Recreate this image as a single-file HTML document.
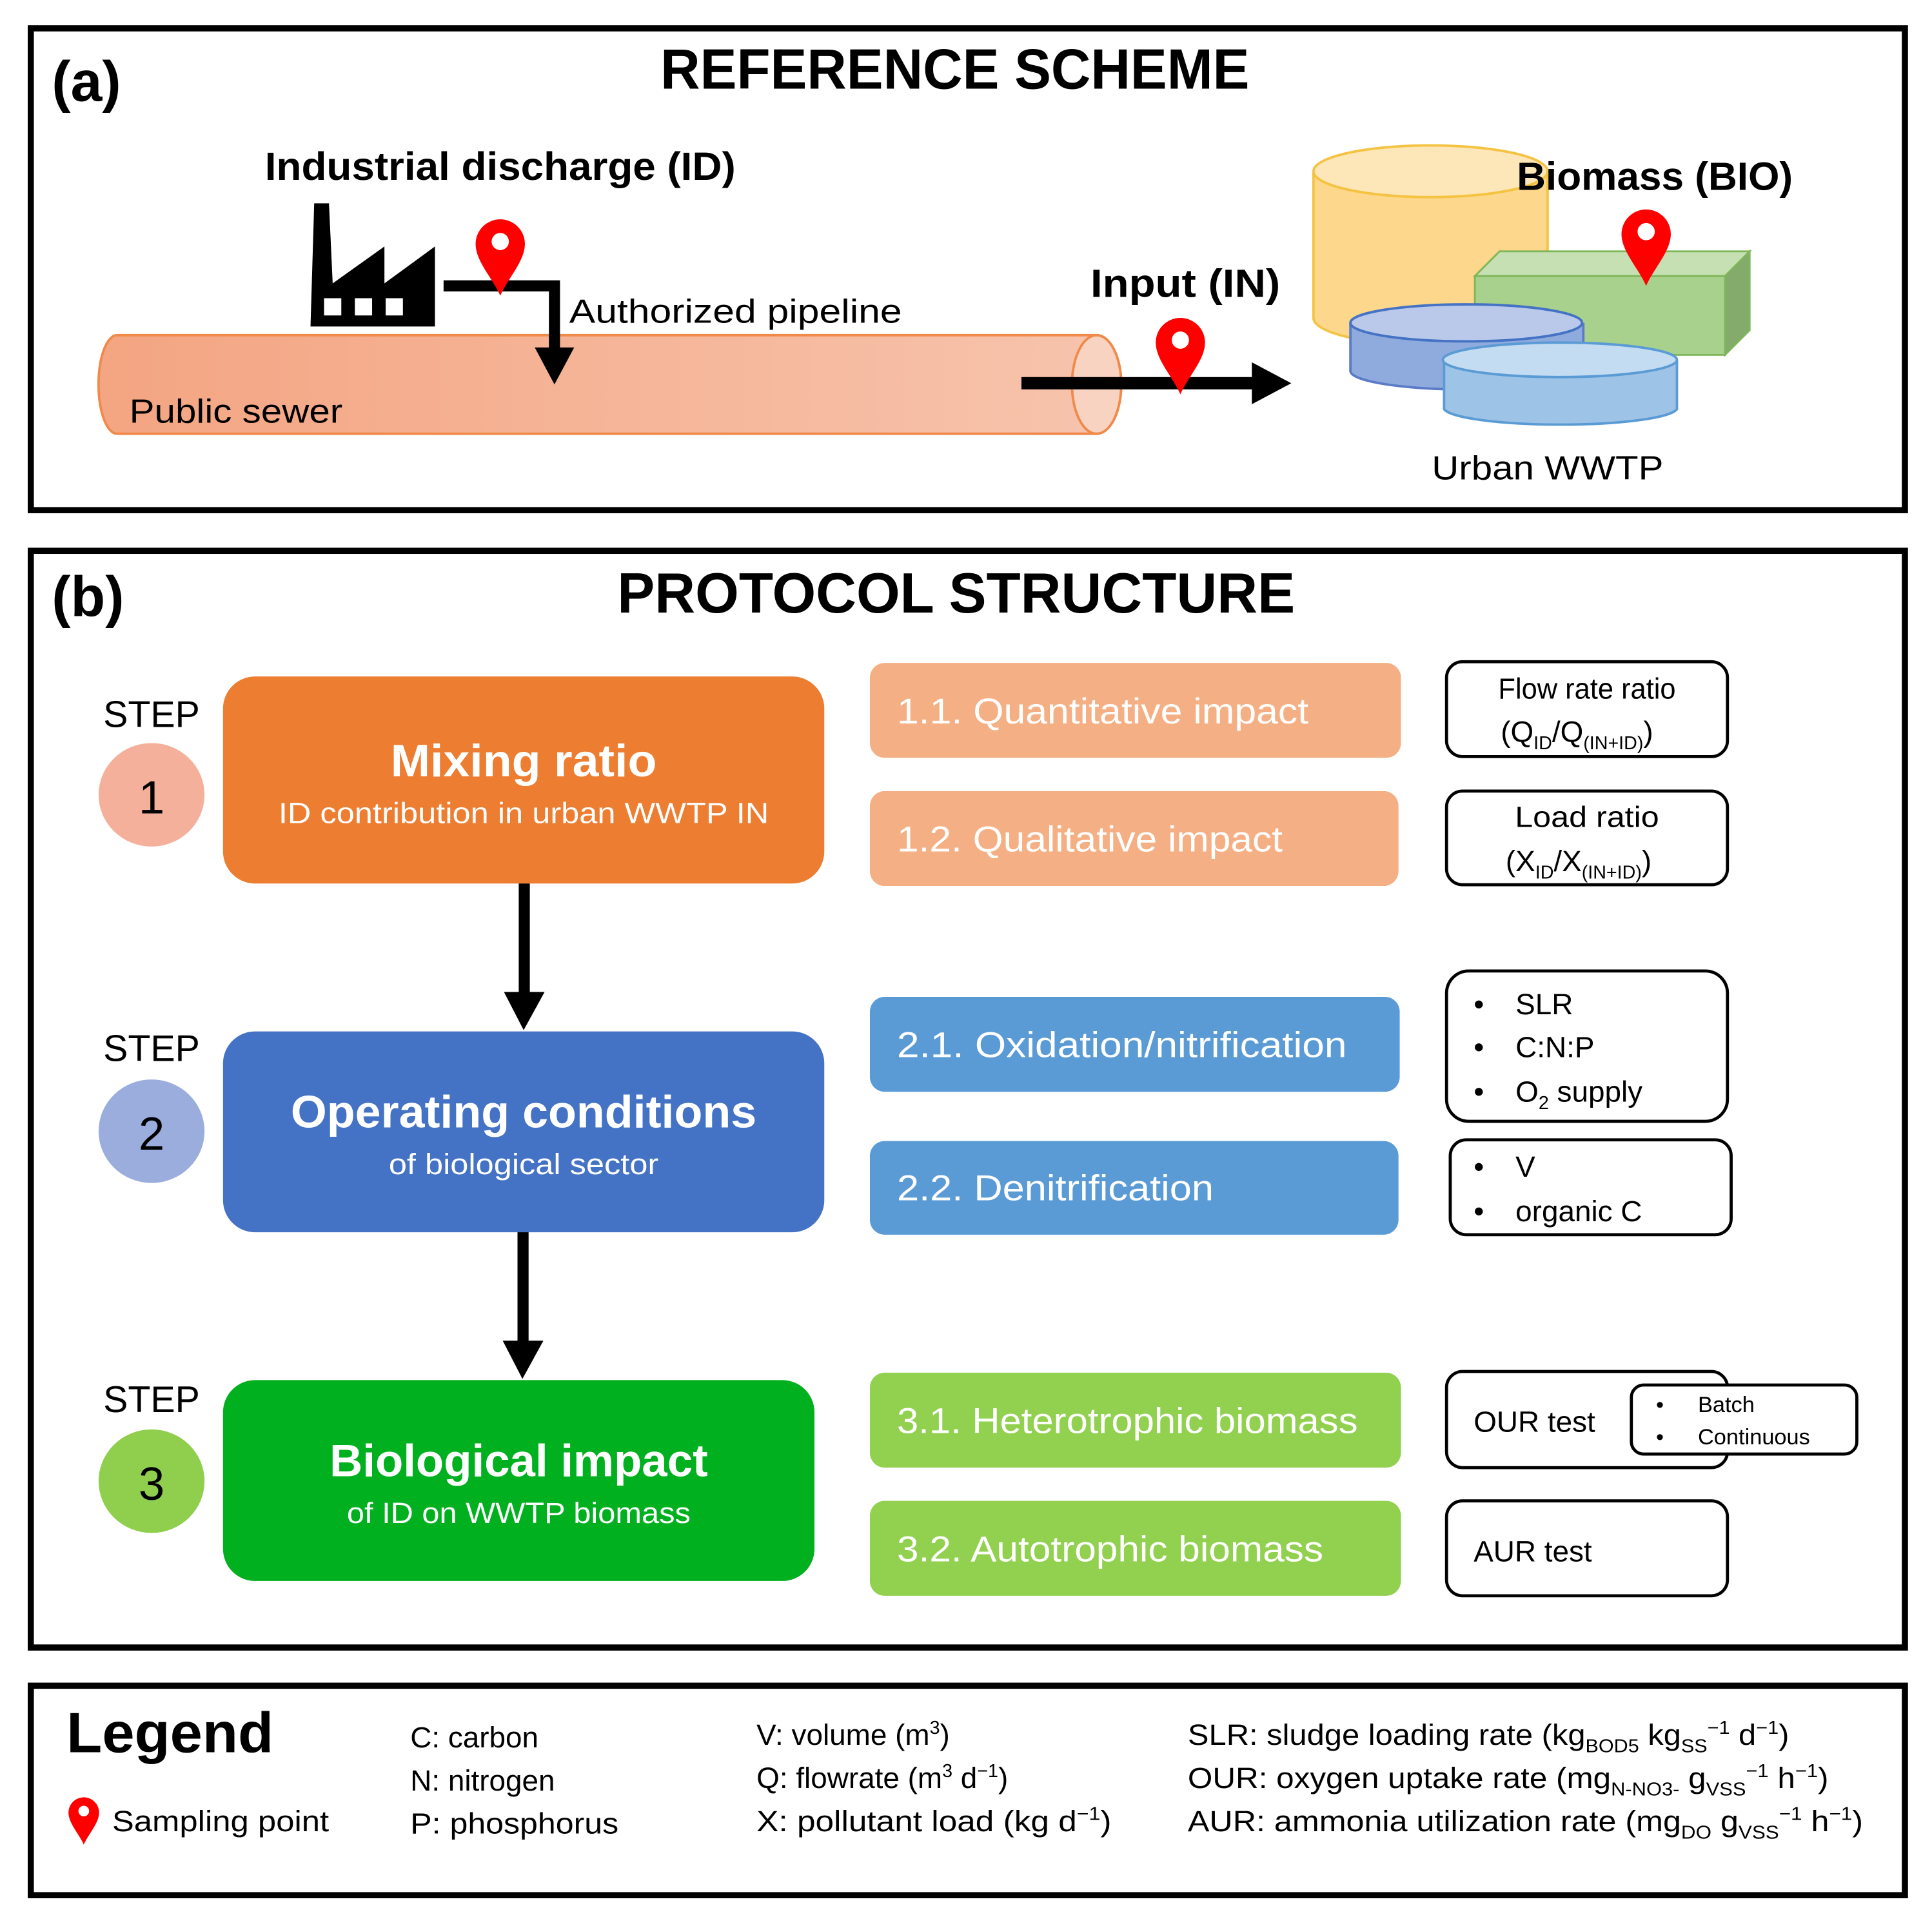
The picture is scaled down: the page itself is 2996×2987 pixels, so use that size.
<!DOCTYPE html>
<html><head><meta charset="utf-8"><style>
html,body{margin:0;padding:0;background:#fff}
svg{display:block}
text{font-family:"Liberation Sans",sans-serif}
</style></head><body>
<svg width="2996" height="2987" viewBox="0 0 1568 1563" preserveAspectRatio="none" xmlns="http://www.w3.org/2000/svg">
<defs>
<linearGradient id="pipe" x1="0" x2="1" y1="0" y2="0"><stop offset="0" stop-color="#f4a582"/><stop offset="1" stop-color="#f7c4ad"/></linearGradient>
<g id="pin"><path d="M0,0 C-6,-14 -20,-28 -20,-42 A20,20 0 1 1 20,-42 C20,-28 6,-14 0,0Z" fill="#ff0000"/><circle cx="0" cy="-44" r="7" fill="#fff"/></g>
</defs>
<rect width="1568" height="1563" fill="#fff"/>
<!-- Panel a -->
<rect x="25" y="23" width="1521" height="391" fill="none" stroke="#000" stroke-width="5"/>
<text x="42" y="82" font-size="46" font-weight="bold">(a)</text>
<text x="775" y="72" font-size="46" font-weight="bold" text-anchor="middle" textLength="478" lengthAdjust="spacingAndGlyphs">REFERENCE SCHEME</text>
<text x="215" y="146" font-size="32" font-weight="bold" textLength="382" lengthAdjust="spacingAndGlyphs">Industrial discharge (ID)</text>
<!-- pipe -->
<path d="M95,272 H890 A20,40 0 0 1 890,352 H95 A15,40 0 0 1 95,272Z" fill="url(#pipe)" stroke="#f08a4b" stroke-width="2"/>
<ellipse cx="890" cy="312" rx="20" ry="40" fill="#f9d3c2" stroke="#f08a4b" stroke-width="2"/>
<text x="105" y="343" font-size="27" textLength="173" lengthAdjust="spacingAndGlyphs">Public sewer</text>
<!-- factory -->
<path d="M255,165 H267 L270,230 L312,200 V230 L353,200 V265 H252 Z" fill="#000"/>
<rect x="263" y="242" width="14" height="14" fill="#fff"/><rect x="288" y="242" width="14" height="14" fill="#fff"/><rect x="313" y="242" width="14" height="14" fill="#fff"/>
<!-- authorized pipeline -->
<path d="M360,232 H450 V285" fill="none" stroke="#000" stroke-width="9"/>
<path d="M434,282 L466,282 L450,312Z" fill="#000"/>
<use href="#pin" transform="translate(406,240)"/>
<text x="462" y="262" font-size="27" textLength="270" lengthAdjust="spacingAndGlyphs">Authorized pipeline</text>
<!-- input arrow -->
<rect x="829" y="306" width="192" height="10" fill="#000"/>
<path d="M1016,294 L1048,311 L1016,328Z" fill="#000"/>
<use href="#pin" transform="translate(958,320)"/>
<text x="885" y="241" font-size="32" font-weight="bold" textLength="154" lengthAdjust="spacingAndGlyphs">Input (IN)</text>
<!-- WWTP -->
<path d="M1066,139 V258 A95,22 0 0 0 1256,258 V139" fill="#fdd78b" stroke="#f5c342" stroke-width="2"/>
<ellipse cx="1161" cy="139" rx="95" ry="21" fill="#fde6b8" stroke="#f5c342" stroke-width="2"/>
<path d="M1197,224 L1217,204 H1420 L1400,224Z" fill="#c6e0b4" stroke="#7fb65a" stroke-width="1.5"/>
<rect x="1197" y="224" width="203" height="64" fill="#a9d18e" stroke="#7fb65a" stroke-width="1.5"/>
<path d="M1400,224 L1420,204 V268 L1400,288Z" fill="#84aa6c" stroke="#7fb65a" stroke-width="1.5"/>
<path d="M1096,262 V301 A94,15 0 0 0 1285,301 V262" fill="#8faadc" stroke="#5b7bc8" stroke-width="2"/>
<ellipse cx="1190" cy="262" rx="94" ry="15" fill="#bac9ea" stroke="#4472c4" stroke-width="2"/>
<path d="M1172,292 V332 A95,14 0 0 0 1361,332 V292" fill="#9dc3e6" stroke="#5b9bd5" stroke-width="2"/>
<ellipse cx="1266" cy="292" rx="95" ry="14" fill="#c4dcf2" stroke="#5b9bd5" stroke-width="2"/>
<use href="#pin" transform="translate(1336,232)"/>
<text x="1231" y="154" font-size="32" font-weight="bold" textLength="224" lengthAdjust="spacingAndGlyphs">Biomass (BIO)</text>
<text x="1162" y="389" font-size="27" textLength="188" lengthAdjust="spacingAndGlyphs">Urban WWTP</text>

<!-- Panel b -->
<rect x="25" y="447" width="1521" height="890" fill="none" stroke="#000" stroke-width="5"/>
<text x="42" y="500" font-size="46" font-weight="bold">(b)</text>
<text x="776" y="497" font-size="46" font-weight="bold" text-anchor="middle" textLength="550" lengthAdjust="spacingAndGlyphs">PROTOCOL STRUCTURE</text>

<g font-size="30" text-anchor="middle">
<text x="123" y="590">STEP</text><text x="123" y="861">STEP</text><text x="123" y="1146">STEP</text>
</g>
<ellipse cx="123" cy="645" rx="43" ry="42" fill="#f4b09a"/>
<ellipse cx="123" cy="918" rx="43" ry="42" fill="#9aaddc"/>
<ellipse cx="123" cy="1202" rx="43" ry="42" fill="#8fcf4d"/>
<g font-size="38" text-anchor="middle"><text x="123" y="660">1</text><text x="123" y="933">2</text><text x="123" y="1217">3</text></g>

<rect x="181" y="549" width="488" height="168" rx="26" fill="#ed7d31"/>
<rect x="181" y="837" width="488" height="163" rx="26" fill="#4472c4"/>
<rect x="181" y="1120" width="480" height="163" rx="26" fill="#00b01e" />
<g fill="#fff" text-anchor="middle">
<text x="425" y="630" font-size="37" font-weight="bold" textLength="216" lengthAdjust="spacingAndGlyphs">Mixing ratio</text>
<text x="425" y="668" font-size="24" textLength="398" lengthAdjust="spacingAndGlyphs">ID contribution in urban WWTP IN</text>
<text x="425" y="915" font-size="37" font-weight="bold" textLength="378" lengthAdjust="spacingAndGlyphs">Operating conditions</text>
<text x="425" y="953" font-size="24" textLength="219" lengthAdjust="spacingAndGlyphs">of biological sector</text>
<text x="421" y="1198" font-size="37" font-weight="bold" textLength="307" lengthAdjust="spacingAndGlyphs">Biological impact</text>
<text x="421" y="1236" font-size="24" textLength="279" lengthAdjust="spacingAndGlyphs">of ID on WWTP biomass</text>
</g>
<rect x="421" y="717" width="9" height="90" fill="#000"/><path d="M409,805 L442,805 L425,836Z" fill="#000"/>
<rect x="420" y="1000" width="9" height="90" fill="#000"/><path d="M408,1088 L441,1088 L424,1119Z" fill="#000"/>

<rect x="706" y="538" width="431" height="77" rx="12" fill="#f4b084"/>
<rect x="706" y="642" width="429" height="77" rx="12" fill="#f4b084"/>
<rect x="706" y="809" width="430" height="77" rx="12" fill="#5b9bd5"/>
<rect x="706" y="926" width="429" height="76" rx="12" fill="#5b9bd5"/>
<rect x="706" y="1114" width="431" height="77" rx="12" fill="#92d050"/>
<rect x="706" y="1218" width="431" height="77" rx="12" fill="#92d050"/>
<g fill="#fff" font-size="29">
<text x="728" y="587" textLength="334" lengthAdjust="spacingAndGlyphs">1.1. Quantitative impact</text>
<text x="728" y="691" textLength="313" lengthAdjust="spacingAndGlyphs">1.2. Qualitative impact</text>
<text x="728" y="858" textLength="365" lengthAdjust="spacingAndGlyphs">2.1. Oxidation/nitrification</text>
<text x="728" y="974" textLength="257" lengthAdjust="spacingAndGlyphs">2.2. Denitrification</text>
<text x="728" y="1163" textLength="374" lengthAdjust="spacingAndGlyphs">3.1. Heterotrophic biomass</text>
<text x="728" y="1267" textLength="346" lengthAdjust="spacingAndGlyphs">3.2. Autotrophic biomass</text>
</g>

<g fill="#fff" stroke="#000" stroke-width="2.5">
<rect x="1174" y="537" width="228" height="77" rx="13"/>
<rect x="1174" y="642" width="228" height="76" rx="13"/>
<rect x="1174" y="788" width="228" height="122" rx="18"/>
<rect x="1177" y="925" width="228" height="77" rx="13"/>
<rect x="1174" y="1113" width="228" height="78" rx="13"/>
<rect x="1324" y="1124" width="183" height="56" rx="10"/>
<rect x="1174" y="1218" width="228" height="77" rx="13"/>
</g>
<g font-size="24">
<text x="1288" y="567" text-anchor="middle" textLength="144" lengthAdjust="spacingAndGlyphs">Flow rate ratio</text>
<text x="1218" y="602">(Q<tspan font-size="15" dy="6">ID</tspan><tspan dy="-6">/Q</tspan><tspan font-size="15" dy="6">(IN+ID)</tspan><tspan dy="-6">)</tspan></text>
<text x="1288" y="671" text-anchor="middle" textLength="117" lengthAdjust="spacingAndGlyphs">Load ratio</text>
<text x="1222" y="707">(X<tspan font-size="15" dy="6">ID</tspan><tspan dy="-6">/X</tspan><tspan font-size="15" dy="6">(IN+ID)</tspan><tspan dy="-6">)</tspan></text>
<text x="1196" y="823">•</text><text x="1230" y="823">SLR</text>
<text x="1196" y="858">•</text><text x="1230" y="858">C:N:P</text>
<text x="1196" y="894">•</text><text x="1230" y="894">O<tspan font-size="15" dy="6">2</tspan><tspan dy="-6"> supply</tspan></text>
<text x="1196" y="955">•</text><text x="1230" y="955">V</text>
<text x="1196" y="991">•</text><text x="1230" y="991">organic C</text>
<text x="1196" y="1162">OUR test</text>
<text x="1196" y="1267">AUR test</text>
</g>
<g font-size="18">
<text x="1344" y="1146">•</text><text x="1378" y="1146">Batch</text>
<text x="1344" y="1172">•</text><text x="1378" y="1172">Continuous</text>
</g>

<!-- Legend -->
<rect x="25" y="1368" width="1521" height="170" fill="none" stroke="#000" stroke-width="5"/>
<text x="54" y="1422" font-size="46" font-weight="bold" textLength="168" lengthAdjust="spacingAndGlyphs">Legend</text>
<use href="#pin" transform="translate(68,1497) scale(0.62)"/>
<g font-size="24">
<text x="91" y="1486" textLength="176" lengthAdjust="spacingAndGlyphs">Sampling point</text>
<text x="333" y="1418">C: carbon</text>
<text x="333" y="1453">N: nitrogen</text>
<text x="333" y="1488" textLength="169" lengthAdjust="spacingAndGlyphs">P: phosphorus</text>
<text x="614" y="1416">V: volume (m<tspan font-size="15" dy="-9">3</tspan><tspan dy="9">)</tspan></text>
<text x="614" y="1451">Q: flowrate (m<tspan font-size="15" dy="-9">3</tspan><tspan dy="9"> d</tspan><tspan font-size="15" dy="-9">−1</tspan><tspan dy="9">)</tspan></text>
<text x="614" y="1486" textLength="288" lengthAdjust="spacingAndGlyphs">X: pollutant load (kg d<tspan font-size="15" dy="-9">−1</tspan><tspan dy="9">)</tspan></text>
<text x="964" y="1416" textLength="488" lengthAdjust="spacingAndGlyphs">SLR: sludge loading rate (kg<tspan font-size="15" dy="6">BOD5</tspan><tspan dy="-6"> kg</tspan><tspan font-size="15" dy="6">SS</tspan><tspan font-size="15" dy="-15">−1</tspan><tspan dy="9"> d</tspan><tspan font-size="15" dy="-9">−1</tspan><tspan dy="9">)</tspan></text>
<text x="964" y="1451" textLength="520" lengthAdjust="spacingAndGlyphs">OUR: oxygen uptake rate (mg<tspan font-size="15" dy="6">N-NO3-</tspan><tspan dy="-6"> g</tspan><tspan font-size="15" dy="6">VSS</tspan><tspan font-size="15" dy="-15">−1</tspan><tspan dy="9"> h</tspan><tspan font-size="15" dy="-9">−1</tspan><tspan dy="9">)</tspan></text>
<text x="964" y="1486" textLength="548" lengthAdjust="spacingAndGlyphs">AUR: ammonia utilization rate (mg<tspan font-size="15" dy="6">DO</tspan><tspan dy="-6"> g</tspan><tspan font-size="15" dy="6">VSS</tspan><tspan font-size="15" dy="-15">−1</tspan><tspan dy="9"> h</tspan><tspan font-size="15" dy="-9">−1</tspan><tspan dy="9">)</tspan></text>
</g>
</svg>
</body></html>
